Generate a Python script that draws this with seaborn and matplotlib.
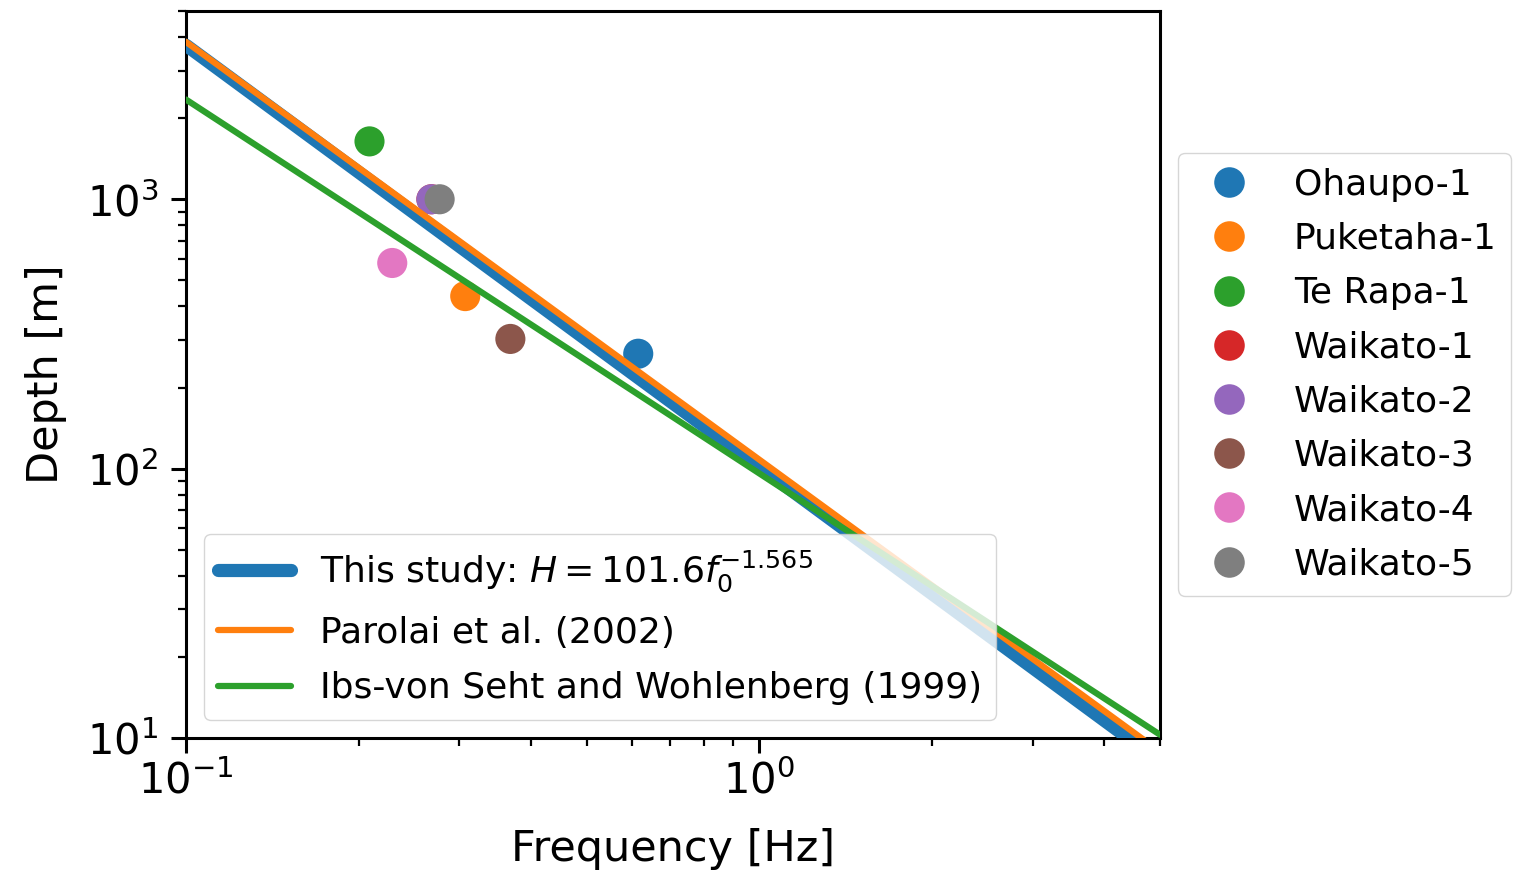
import numpy as np
import pandas as pd
import matplotlib
matplotlib.use("Agg")
import matplotlib.pyplot as plt
from matplotlib.lines import Line2D
import seaborn as sns

# Resonance frequency and basement depth at each well
wells = ["Ohaupo-1", "Puketaha-1", "Te Rapa-1", "Waikato-1",
         "Waikato-2", "Waikato-3", "Waikato-4", "Waikato-5"]
freq_hz = [0.615, 0.307, 0.209, 0.268, 0.268, 0.368, 0.229, 0.277]
depth_m = [267, 437, 1640, 1000, 1000, 303, 580, 1000]

# Power-law depth/frequency relations H = a * f0^b
relation_labels = [r"This study: $H = 101.6f_0^{-1.565}$",
                   "Parolai et al. (2002)",
                   "Ibs-von Seht and Wohlenberg (1999)"]
relation_a = [101.6, 108.0, 96.0]
relation_b = [-1.565, -1.551, -1.388]
relation_lw = [9.5, 4.5, 4.5]

sns.set_style("ticks", {"axes.edgecolor": "black", "xtick.color": "black",
                        "ytick.color": "black", "text.color": "black",
                        "axes.labelcolor": "black"})
plt.rcParams["font.family"] = ["DejaVu Sans"]
plt.rcParams["mathtext.fontset"] = "dejavusans"

palette = sns.color_palette("tab10", len(wells))

fig = plt.figure(figsize=(15.13, 8.72), dpi=100)
ax = fig.add_axes([0.1229, 0.1537, 0.7667 - 0.1229, 0.9874 - 0.1537])

wells_df = pd.DataFrame({"Well": wells, "Frequency": freq_hz, "Depth": depth_m})
sns.scatterplot(data=wells_df, x="Frequency", y="Depth", hue="Well",
                palette=palette, s=470, edgecolor="none", linewidth=0,
                legend=False, ax=ax, zorder=2)

f_grid = np.logspace(-1, np.log10(5.0), 200)
line_handles = []
for lab, a, b, lw, col in zip(relation_labels, relation_a, relation_b,
                              relation_lw, sns.color_palette("tab10", 3)):
    curve = pd.DataFrame({"f": f_grid, "H": a * f_grid ** b})
    sns.lineplot(data=curve, x="f", y="H", color=col, lw=lw, ax=ax,
                 zorder=3, label=lab)
    line_handles.append(Line2D([], [], color=col, lw=lw))

ax.set_xscale("log")
ax.set_yscale("log")
ax.set_xlim(0.1, 5.0)
ax.set_ylim(10, 5000)

ax.set_xlabel("Frequency [Hz]", fontsize=31, labelpad=18)
ax.set_ylabel("Depth [m]", fontsize=31, labelpad=14)
ax.tick_params(axis="both", which="major", labelsize=30, length=11,
               width=2.2, direction="out")
ax.tick_params(axis="y", which="major", pad=9)
ax.tick_params(axis="x", which="major", pad=5)
ax.tick_params(axis="both", which="minor", length=5.5, width=1.6,
               direction="out")
for sp in ax.spines.values():
    sp.set_linewidth(2.2)
    sp.set_color("black")

leg_lines = ax.legend(line_handles, relation_labels, loc="lower left",
                      fontsize=26, frameon=True, framealpha=0.8,
                      edgecolor="0.8", fancybox=True, labelspacing=0.6)
ax.add_artist(leg_lines)

marker_handles = [Line2D([], [], marker="o", linestyle="none",
                         markersize=22, markerfacecolor=c,
                         markeredgecolor="none") for c in palette]
ax.legend(marker_handles, wells, loc="center left",
          bbox_to_anchor=(1.0, 0.5), fontsize=26, frameon=True,
          framealpha=0.8, edgecolor="0.8", fancybox=True,
          labelspacing=0.56)

fig.savefig("out.png", dpi=100)
